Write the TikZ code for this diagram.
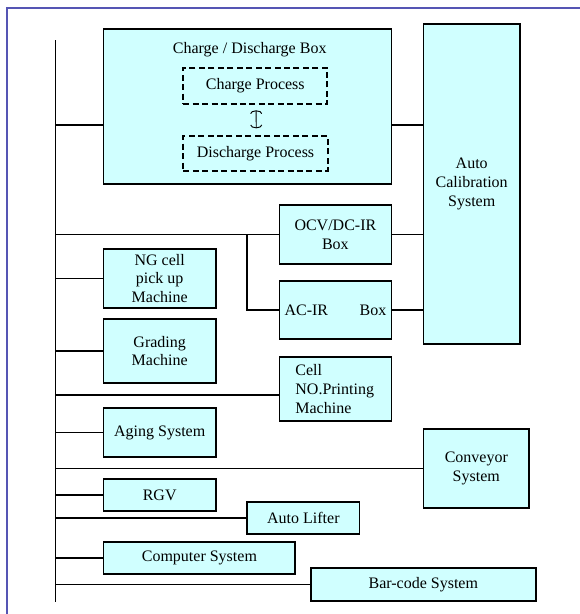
\documentclass[tikz,border=0pt]{standalone}
\usepackage{fontspec}
\setmainfont{Liberation Serif}
\usetikzlibrary{calc,arrows.meta}
\definecolor{celeste}{RGB}{208,255,255}
\definecolor{cornice}{RGB}{85,85,180}

\begin{document}
\begin{tikzpicture}[x=0.75pt,y=-0.75pt,
        testo/.style={font=\fontsize{12}{14}\selectfont},
        blocco/.style={testo,draw,line width=1.1pt,fill=celeste,inner sep=0pt,align=center},
        processo/.style={testo,draw,line width=1.5pt,dash pattern=on 4.5pt off 2.6pt,inner sep=0pt},
        filo/.style={line width=1.1pt}]
        \useasboundingbox(0,0)rectangle(580,614);
        %cornice blu
        \draw[cornice,line width=1.5pt](580,8)--(7,8)--(7,614);
        %bus verticale
        \draw[filo](55.5,40)coordinate(bus)--(55.5,602);

        %box di carica e scarica
        \node[blocco,minimum width=215.9pt,minimum height=116.3pt](cd)at(247.5,106.5){};
        \node[testo](cdtitolo)at(249.7,50){Charge / Discharge Box};
        \node[processo,minimum width=108.2pt,minimum height=27pt](carica)at(255.3,86){Charge Process};
        \node[processo,minimum width=108.2pt,minimum height=26.3pt](scarica)at(255.5,153.5){Discharge Process};
        \draw[line width=0.7pt,{Arc Barb[length=2.5pt,width=9pt]}-{Arc Barb[length=2.5pt,width=9pt]},shorten <=4pt,shorten >=5pt]([xshift=0.6pt]carica.south)--([xshift=0.6pt]scarica.north);

        \node[blocco,minimum width=72.2pt,minimum height=240pt](cal)at(471.7,184){Auto\\Calibration\\System};
        \node[blocco,minimum width=84.1pt,minimum height=44.3pt](ocv)at(335.4,234.5){OCV/DC-IR\\Box};
        \node[blocco,minimum width=84.1pt,minimum height=43.5pt](acir)at(335.4,310){\makebox[76.3pt]{AC-IR\hfill Box}};
        \node[blocco,minimum width=84.1pt,minimum height=44.3pt](ng)at(159.7,278.5){NG cell\\pick up\\Machine};
        \node[blocco,minimum width=84.1pt,minimum height=48pt](grading)at(159.7,351){Grading\\Machine};
        \node[blocco,minimum width=84.1pt,minimum height=48pt,text width=60pt,align=left](stampa)at(335.4,389){Cell\\NO.Printing\\Machine};
        \node[blocco,minimum width=84.1pt,minimum height=36.8pt](aging)at(159.7,432.5){Aging System};
        \node[blocco,minimum width=79pt,minimum height=59.3pt](conv)at(476.3,468.5){Conveyor\\System};
        \node[blocco,minimum width=84.1pt,minimum height=24pt](rgv)at(159.7,495){RGV};
        \node[blocco,minimum width=84.4pt,minimum height=24pt](lifter)at(303.4,518){Auto Lifter};
        \node[blocco,minimum width=143.7pt,minimum height=24pt](computer)at(199.4,558){Computer System};
        \node[blocco,minimum width=168.7pt,minimum height=24.8pt](barcode)at(423.3,584.5){Bar-code System};

        %collegamenti
        \coordinate(cdsx)at($(cd.west)+(0,18.5)$);
        \coordinate(cddx)at($(cd.east)+(0,18.5)$);
        \draw[filo](cdsx)--(cdsx-|bus);
        \draw[filo](cddx)--(cddx-|cal.west);
        \draw[filo](ocv.west)--(ocv.west-|bus);
        \coordinate(ramo)at($(ocv.west)+(-31.4,0)$);
        \draw[filo](ramo)|-(acir.west);
        \draw[filo](ocv.east)--(ocv.east-|cal.west);
        \draw[filo](acir.east)--(acir.east-|cal.west);
        \draw[filo](ng.west)--(ng.west-|bus);
        \draw[filo](grading.west)--(grading.west-|bus);
        \coordinate(stsx)at($(stampa.west)+(0,6)$);
        \draw[filo](stsx)--(stsx-|bus);
        \draw[filo](aging.west)--(aging.west-|bus);
        \draw[filo](conv.west)--(conv.west-|bus);
        \draw[filo](rgv.west)--(rgv.west-|bus);
        \draw[filo](lifter.west)--(lifter.west-|bus);
        \draw[filo](computer.west)--(computer.west-|bus);
        \draw[filo](barcode.west)--(barcode.west-|bus);
    \end{tikzpicture}
\end{document}
